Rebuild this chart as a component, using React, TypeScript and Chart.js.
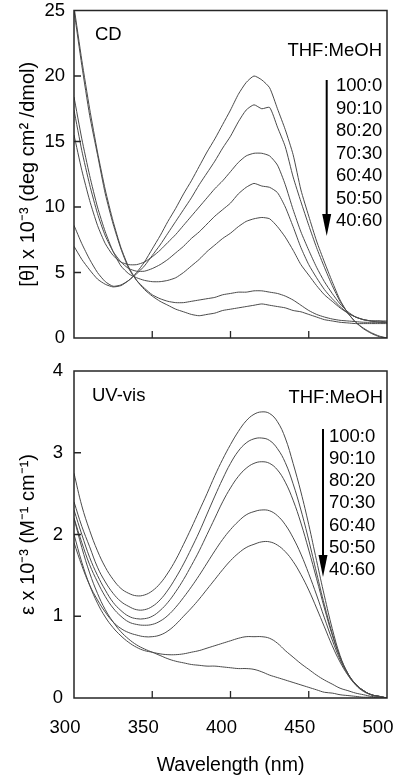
import { useEffect, useRef } from "react";
import { Chart, registerables } from "chart.js";

Chart.register(...registerables);

// ---------- data ----------
const wavelengths = [
  300, 305, 310, 315, 320, 325, 330, 335, 340, 345, 350, 355, 360, 365, 370, 375, 380, 385, 390, 395,
  400, 405, 410, 415, 420, 425, 430, 435, 440, 445, 450, 455, 460, 465, 470, 475, 480, 485, 490, 495, 500,
];

const ratioLabels = ["100:0", "90:10", "80:20", "70:30", "60:40", "50:50", "40:60"];

// CD, [θ] x 10^-3
const cd100_0 = [7.0, 6.0, 5.2, 4.5, 4.1, 3.9, 4.0, 4.4, 5.0, 5.8, 6.8, 7.8, 8.9, 9.9, 11.0, 12.0, 13.1, 14.2, 15.2, 16.3, 17.4, 18.6, 19.5, 20.0, 19.7, 19.1, 17.5, 15.9, 14.0, 11.3, 9.3, 7.4, 5.8, 4.3, 2.9, 1.9, 1.2, 0.7, 0.35, 0.1, 0.0];
const cd90_10 = [8.6, 7.2, 6.0, 5.0, 4.3, 3.95, 4.05, 4.4, 4.9, 5.5, 6.3, 7.1, 8.0, 8.9, 9.8, 10.7, 11.7, 12.6, 13.5, 14.5, 15.4, 16.5, 17.4, 17.8, 17.5, 17.6, 16.1, 14.6, 12.3, 10.4, 8.6, 6.9, 5.4, 4.0, 2.8, 1.9, 1.2, 0.75, 0.4, 0.15, 0.0];
const cd80_20 = [15.5, 12.8, 10.5, 8.6, 7.2, 6.3, 5.8, 5.6, 5.6, 5.8, 6.2, 6.7, 7.3, 7.9, 8.6, 9.3, 10.0, 10.7, 11.4, 12.0, 12.7, 13.4, 13.9, 14.1, 14.1, 13.9, 13.2, 11.7, 9.8, 8.1, 6.7, 5.4, 4.3, 3.4, 2.6, 2.0, 1.6, 1.4, 1.3, 1.3, 1.2];
const cd70_30 = [17.4, 14.3, 11.7, 9.5, 7.8, 6.6, 5.8, 5.3, 5.1, 5.1, 5.3, 5.6, 6.0, 6.5, 7.0, 7.6, 8.1, 8.7, 9.3, 9.8, 10.3, 11.0, 11.5, 11.8, 11.6, 11.5, 11.1, 10.0, 8.5, 6.9, 5.6, 4.6, 3.7, 3.0, 2.4, 1.9, 1.6, 1.4, 1.3, 1.3, 1.3];
const cd60_40 = [18.4, 15.2, 12.4, 10.0, 8.1, 6.6, 5.5, 4.9, 4.6, 4.4, 4.3, 4.3, 4.4, 4.6, 5.0, 5.5, 6.0, 6.6, 7.1, 7.6, 8.0, 8.5, 8.9, 9.1, 9.2, 9.1, 8.5, 7.7, 6.7, 5.6, 4.8, 4.0, 3.3, 2.8, 2.3, 1.9, 1.6, 1.4, 1.3, 1.2, 1.2];
const cd50_50 = [25.0, 20.8, 17.0, 14.0, 11.0, 8.7, 6.8, 5.3, 4.4, 3.8, 3.3, 3.0, 2.8, 2.7, 2.7, 2.8, 2.9, 3.0, 3.1, 3.3, 3.4, 3.5, 3.5, 3.6, 3.6, 3.5, 3.4, 3.2, 2.9, 2.5, 2.1, 1.8, 1.6, 1.45, 1.35, 1.3, 1.25, 1.2, 1.2, 1.2, 1.2];
const cd40_60 = [25.3, 21.2, 17.5, 14.2, 11.3, 8.9, 6.9, 5.4, 4.4, 3.7, 3.2, 2.8, 2.5, 2.2, 2.0, 1.8, 1.7, 1.8, 1.9, 2.1, 2.2, 2.3, 2.4, 2.5, 2.6, 2.5, 2.4, 2.3, 2.1, 2.0, 1.8, 1.6, 1.4, 1.3, 1.2, 1.15, 1.1, 1.1, 1.1, 1.1, 1.1];

// UV-vis, ε x 10^-3
const uv100_0 = [2.75, 2.35, 2.05, 1.8, 1.6, 1.45, 1.34, 1.28, 1.25, 1.26, 1.31, 1.4, 1.53, 1.69, 1.88, 2.08, 2.29, 2.5, 2.72, 2.92, 3.1, 3.26, 3.39, 3.47, 3.5, 3.48, 3.38, 3.18, 2.87, 2.52, 2.12, 1.68, 1.25, 0.85, 0.52, 0.3, 0.16, 0.08, 0.04, 0.02, 0.0];
const uv90_10 = [2.4, 2.1, 1.85, 1.6, 1.42, 1.28, 1.18, 1.12, 1.08, 1.08, 1.12, 1.2, 1.32, 1.47, 1.64, 1.83, 2.03, 2.25, 2.47, 2.68, 2.87, 3.02, 3.12, 3.17, 3.18, 3.15, 3.05, 2.88, 2.62, 2.3, 1.93, 1.53, 1.14, 0.79, 0.5, 0.3, 0.17, 0.09, 0.04, 0.02, 0.0];
const uv80_20 = [2.3, 2.0, 1.72, 1.5, 1.32, 1.17, 1.07, 1.0, 0.97, 0.97, 1.0, 1.07, 1.17, 1.3, 1.45, 1.62, 1.8, 2.0, 2.2, 2.4, 2.57, 2.71, 2.81, 2.87, 2.89, 2.87, 2.79, 2.64, 2.42, 2.14, 1.81, 1.46, 1.1, 0.77, 0.5, 0.3, 0.17, 0.09, 0.04, 0.02, 0.0];
const uv70_30 = [2.2, 1.9, 1.63, 1.42, 1.24, 1.1, 1.0, 0.93, 0.9, 0.89, 0.9, 0.94, 1.01, 1.11, 1.23, 1.36, 1.5, 1.65, 1.8, 1.94, 2.06, 2.16, 2.24, 2.28, 2.3, 2.29, 2.23, 2.12, 1.96, 1.76, 1.52, 1.26, 0.98, 0.71, 0.47, 0.29, 0.17, 0.09, 0.04, 0.02, 0.0];
const uv60_40 = [1.9, 1.62, 1.38, 1.2, 1.05, 0.93, 0.85, 0.8, 0.77, 0.75, 0.75, 0.77, 0.82, 0.9, 1.0, 1.1, 1.21, 1.33, 1.45, 1.57, 1.68, 1.77, 1.84, 1.88, 1.91, 1.91, 1.87, 1.79, 1.67, 1.51, 1.32, 1.1, 0.87, 0.64, 0.44, 0.28, 0.16, 0.09, 0.04, 0.02, 0.0];
const uv50_50 = [2.0, 1.66, 1.38, 1.16, 0.99, 0.86, 0.76, 0.68, 0.62, 0.58, 0.56, 0.54, 0.53, 0.53, 0.54, 0.56, 0.58, 0.61, 0.64, 0.67, 0.7, 0.73, 0.75, 0.75, 0.75, 0.73, 0.67, 0.58, 0.5, 0.42, 0.35, 0.28, 0.22, 0.17, 0.12, 0.09, 0.06, 0.04, 0.02, 0.01, 0.0];
const uv40_60 = [2.2, 1.84, 1.53, 1.28, 1.08, 0.93, 0.81, 0.72, 0.65, 0.6, 0.56, 0.52, 0.48, 0.45, 0.43, 0.41, 0.4, 0.39, 0.39, 0.38, 0.37, 0.36, 0.36, 0.35, 0.32, 0.28, 0.25, 0.22, 0.19, 0.16, 0.13, 0.1, 0.07, 0.06, 0.04, 0.03, 0.02, 0.01, 0.01, 0.0, 0.0];

const cdYTicks = [0, 5, 10, 15, 20, 25];
const uvYTicks = [0, 1, 2, 3, 4];
const xTicks = [300, 350, 400, 450, 500];

// ---------- styling ----------
const FONT = "'Liberation Sans', Arial, Helvetica, sans-serif";
const LINE_COLOR = "#4a4a4a";
const FRAME_COLOR = "#262626";
const TEXT_SIZE = 18.5;

type Notes = {
  tag: string;
  tagDX: number;
  tagDY: number;
  headDX: number;
  headDY: number;
  listDX: number;
  listDY: number;
  listStep: number;
  arrowDX: number;
  arrowDY1: number;
  arrowDY2: number;
};

function decorPlugin(notes: Notes) {
  return {
    id: "decor",
    afterDatasetsDraw(chart: any) {
      const { ctx, chartArea: a } = chart;
      const xs = chart.scales.x;
      const ys = chart.scales.y;
      ctx.save();
      ctx.strokeStyle = FRAME_COLOR;
      ctx.lineWidth = 1.3;
      ctx.beginPath();
      for (const t of ys.ticks) {
        if (t.value <= ys.min || t.value >= ys.max) continue;
        const p = ys.getPixelForValue(t.value);
        ctx.moveTo(a.left, p);
        ctx.lineTo(a.left + 7, p);
      }
      for (const t of xs.ticks) {
        if (t.value <= xs.min || t.value >= xs.max) continue;
        const p = xs.getPixelForValue(t.value);
        ctx.moveTo(p, a.bottom);
        ctx.lineTo(p, a.bottom - 7);
      }
      ctx.stroke();
      ctx.lineWidth = 1.5;
      ctx.strokeRect(a.left, a.top, a.right - a.left, a.bottom - a.top);

      ctx.fillStyle = "#000";
      ctx.font = `${TEXT_SIZE}px ${FONT}`;
      ctx.textBaseline = "middle";
      ctx.textAlign = "left";
      ctx.fillText(notes.tag, a.left + notes.tagDX, a.top + notes.tagDY);
      ctx.textAlign = "right";
      ctx.fillText("THF:MeOH", a.right + notes.headDX, a.top + notes.headDY);
      ctx.textAlign = "left";
      ratioLabels.forEach((r, i) => {
        ctx.fillText(r, a.right + notes.listDX, a.top + notes.listDY + i * notes.listStep);
      });
      // arrow
      const ax = a.right + notes.arrowDX;
      const y1 = a.top + notes.arrowDY1;
      const y2 = a.top + notes.arrowDY2;
      const head = 22;
      ctx.strokeStyle = "#000";
      ctx.lineWidth = 2;
      ctx.beginPath();
      ctx.moveTo(ax, y1);
      ctx.lineTo(ax, y2 - head + 2);
      ctx.stroke();
      ctx.beginPath();
      ctx.moveTo(ax - 4.5, y2 - head);
      ctx.lineTo(ax + 4.5, y2 - head);
      ctx.lineTo(ax, y2);
      ctx.closePath();
      ctx.fill();
      ctx.restore();
    },
  };
}

type PanelSpec = {
  series: number[][];
  yTicks: number[];
  yTitle: string;
  tension: number;
  showX: boolean;
  xHeight: number;
  padTop: number;
  yLabelPad: number;
  notes: Notes;
};

function makeConfig(spec: PanelSpec): any {
  const datasets = spec.series.map((vals, k) => ({
    label: ratioLabels[k],
    data: wavelengths.map((w, i) => ({ x: w, y: vals[i] })),
    borderColor: LINE_COLOR,
    borderWidth: 1,
    pointRadius: 0,
    tension: spec.tension,
    fill: false,
  }));
  return {
    type: "line",
    data: { datasets },
    plugins: [decorPlugin(spec.notes)],
    options: {
      animation: false,
      responsive: true,
      maintainAspectRatio: false,
      events: [],
      layout: { padding: { top: spec.padTop, right: 7, bottom: 0, left: 0 } },
      plugins: { legend: { display: false }, tooltip: { enabled: false } },
      scales: {
        x: {
          type: "linear",
          min: xTicks[0],
          max: xTicks[xTicks.length - 1],
          afterBuildTicks: (s: any) => {
            s.ticks = xTicks.map((v) => ({ value: v }));
          },
          afterFit: (s: any) => {
            s.height = spec.xHeight;
            s.paddingLeft = 0;
            s.paddingRight = 0;
          },
          grid: { display: false, drawTicks: false },
          border: { display: false },
          ticks: {
            display: spec.showX,
            font: { size: TEXT_SIZE, family: FONT },
            color: "#000",
            padding: 19,
            labelOffset: -9,
            maxRotation: 0,
            minRotation: 0,
            autoSkip: false,
          },
          title: {
            display: spec.showX,
            text: "Wavelength (nm)",
            font: { size: 19.5, family: FONT },
            color: "#000",
            padding: { top: 0, bottom: -2 },
          },
        },
        y: {
          type: "linear",
          min: spec.yTicks[0],
          max: spec.yTicks[spec.yTicks.length - 1],
          afterBuildTicks: (s: any) => {
            s.ticks = spec.yTicks.map((v) => ({ value: v }));
          },
          afterFit: (s: any) => {
            s.width = 74;
            s.paddingTop = 0;
            s.paddingBottom = 0;
          },
          grid: { display: false, drawTicks: false },
          border: { display: false },
          ticks: {
            font: { size: TEXT_SIZE, family: FONT },
            color: "#000",
            padding: spec.yLabelPad,
          },
          title: {
            display: true,
            text: spec.yTitle,
            font: { size: 20, family: FONT },
            color: "#000",
            padding: { top: 16, bottom: 0 },
          },
        },
      },
    },
  };
}

const cdSpec: PanelSpec = {
  series: [cd100_0, cd90_10, cd80_20, cd70_30, cd60_40, cd50_50, cd40_60],
  yTicks: cdYTicks,
  yTitle: "[θ] x 10⁻³ (deg cm² /dmol)",
  tension: 0.2,
  showX: false,
  xHeight: 17,
  padTop: 10.5,
  yLabelPad: 9,
  notes: {
    tag: "CD",
    tagDX: 21,
    tagDY: 24.5,
    headDX: -5,
    headDY: 40.5,
    listDX: -51,
    listDY: 75.5,
    listStep: 22.5,
    arrowDX: -60.3,
    arrowDY1: 69.5,
    arrowDY2: 225.5,
  },
};

const uvSpec: PanelSpec = {
  series: [uv100_0, uv90_10, uv80_20, uv70_30, uv60_40, uv50_50, uv40_60],
  yTicks: uvYTicks,
  yTitle: "ε x 10⁻³ (M⁻¹ cm⁻¹)",
  tension: 0.4,
  showX: true,
  xHeight: 77,
  padTop: 16,
  yLabelPad: 11,
  notes: {
    tag: "UV-vis",
    tagDX: 18,
    tagDY: 25,
    headDX: -4,
    headDY: 26.5,
    listDX: -58,
    listDY: 65.7,
    listStep: 22.2,
    arrowDX: -64,
    arrowDY1: 58,
    arrowDY2: 206,
  },
};

function Panel({ spec, top, height }: { spec: PanelSpec; top: number; height: number }) {
  const ref = useRef<HTMLCanvasElement | null>(null);
  useEffect(() => {
    if (!ref.current) return;
    const chart = new Chart(ref.current, makeConfig(spec));
    return () => chart.destroy();
  }, [spec]);
  return (
    <div style={{ position: "absolute", left: 0, top, width: 394, height }}>
      <canvas ref={ref} />
    </div>
  );
}

export default function App() {
  return (
    <div style={{ position: "absolute", left: 0, top: 0, width: 394, height: 775, background: "#fff" }}>
      <Panel spec={cdSpec} top={0} height={355} />
      <Panel spec={uvSpec} top={355} height={420} />
    </div>
  );
}
